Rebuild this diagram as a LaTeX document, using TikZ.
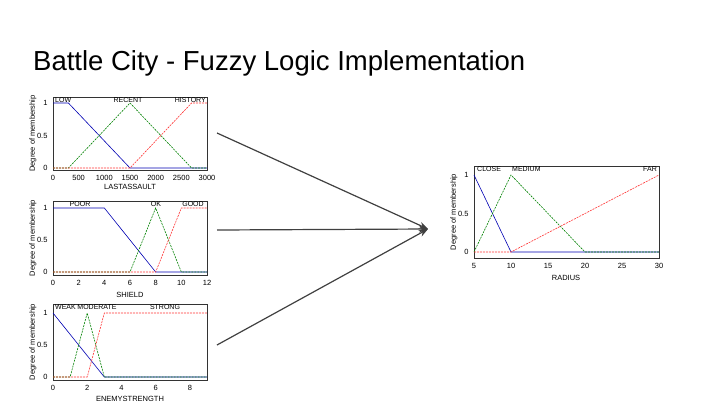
\documentclass[tikz,border=0pt]{standalone}
\usepackage{fontspec}
\setmainfont{Liberation Sans}
\usetikzlibrary{arrows.meta}
\begin{document}
\begin{tikzpicture}[x=1pt,y=-1pt,
  tick/.style={font=\fontsize{7.5}{8}\selectfont},
  lab/.style={font=\fontsize{7}{8}\selectfont,inner sep=0pt},
  mf/.style={line width=0.6pt},
  dsh/.style={dash pattern=on 2pt off 1pt},
  fl/.style={line width=1.2pt,-{Stealth[length=9pt,width=7pt]},draw=black!75}]
\useasboundingbox (0,0) rectangle (720,405);
\node[anchor=base west,inner sep=0pt,font=\fontsize{27.5}{30}\selectfont] (title) at (33,70) {Battle City - Fuzzy Logic Implementation};
\newcommand{\plotbox}[6]{%
  \draw[black!80,line width=0.5pt] (#1,#3) rectangle (#2,#4);
  \foreach \yv/\yl in {1/1,0.5/0.5,0/0}{
    \node[tick,anchor=east] at (#1-2,{#6+(#5-#6)*\yv}) {\yl};}
  \node[tick,rotate=90] at (#1-20,{(#3+#4)/2}) {Degree of membership};
}
% Plot 1
\plotbox{53}{207}{97}{170}{103}{168}
\foreach \v in {0,500,...,3000}{\node[tick,anchor=north] at ({53+\v/3000*154},172) {\v};}
\node[tick] (xl1) at (130,187) {LASTASSAULT};
\draw[mf,blue!70!black] (53,103) -- ({53+154*0.1},103) -- ({53+154*0.5},168) -- (207,168);
\draw[mf,dsh,green!50!black] (53,168) -- ({53+154*0.1},168) -- ({53+154*0.5},103) -- ({53+154*0.9},168) -- (207,168);
\draw[mf,dsh,red!80] (53,168) -- ({53+154*0.5},168) -- ({53+154*0.9},103) -- (207,103);
\node[lab,anchor=north west] at (55,97) {LOW};
\node[lab,anchor=north] at (128,97) {RECENT};
\node[lab,anchor=north east] at (206,97) {HISTORY};
% Plot 2
\plotbox{53}{207}{201}{275}{208}{272}
\foreach \v in {0,2,...,12}{\node[tick,anchor=north] at ({53+154*\v/12},277) {\v};}
\node[tick] (xl2) at (130,295) {SHIELD};
\draw[mf,blue!70!black] (53,208) -- ({53+154*4/12},208) -- ({53+154*8/12},272) -- (207,272);
\draw[mf,dsh,green!50!black] (53,272) -- ({53+154*6/12},272) -- ({53+154*8/12},208) -- ({53+154*10/12},272) -- (207,272);
\draw[mf,dsh,red!80] (53,272) -- ({53+154*8/12},272) -- ({53+154*10/12},208) -- (207,208);
\node[lab,anchor=north] at (80,201) {POOR};
\node[lab,anchor=north] at (156,201) {OK};
\node[lab,anchor=north] at (193,201) {GOOD};
% Plot 3
\plotbox{53}{207}{304}{380}{313}{377}
\foreach \v in {0,2,...,8}{\node[tick,anchor=north] at ({53+154*\v/9},382) {\v};}
\node[tick] (xl3) at (130,399) {ENEMYSTRENGTH};
\draw[mf,blue!70!black] (53,313) -- ({53+154*3/9},377) -- (207,377);
\draw[mf,dsh,green!50!black] (53,377) -- ({53+154*1/9},377) -- ({53+154*2/9},313) -- ({53+154*3/9},377) -- (207,377);
\draw[mf,dsh,red!80] (53,377) -- ({53+154*2/9},377) -- ({53+154*3/9},313) -- (207,313);
\node[lab,anchor=north west] at (55,304) {WEAK};
\node[lab,anchor=north] at (97,304) {MODERATE};
\node[lab,anchor=north] at (165,304) {STRONG};
% Plot 4
\plotbox{474}{659}{166}{258}{175}{252}
\foreach \v in {5,10,...,30}{\node[tick,anchor=north] at ({474+185*(\v-5)/25},260) {\v};}
\node[tick] (xl4) at (566,278) {RADIUS};
\draw[mf,blue!70!black] (474,175) -- ({474+185*0.2},252) -- (659,252);
\draw[mf,dsh,green!50!black] (474,252) -- ({474+185*0.2},175) -- ({474+185*0.6},252) -- (659,252);
\draw[mf,dsh,red!80] (474,252) -- ({474+185*0.2},252) -- (659,175);
\node[lab,anchor=north west] at (477,166) {CLOSE};
\node[lab,anchor=north west] at (512,166) {MEDIUM};
\node[lab,anchor=north east] at (657,166) {FAR};
% arrows
\coordinate (s1) at (217,133);
\coordinate (s2) at (217,230);
\coordinate (s3) at (217,345);
\coordinate (t) at (428,229);
\draw[fl] (s1) -- (t);
\draw[fl] (s2) -- (t);
\draw[fl] (s3) -- (t);
\end{tikzpicture}
\end{document}
